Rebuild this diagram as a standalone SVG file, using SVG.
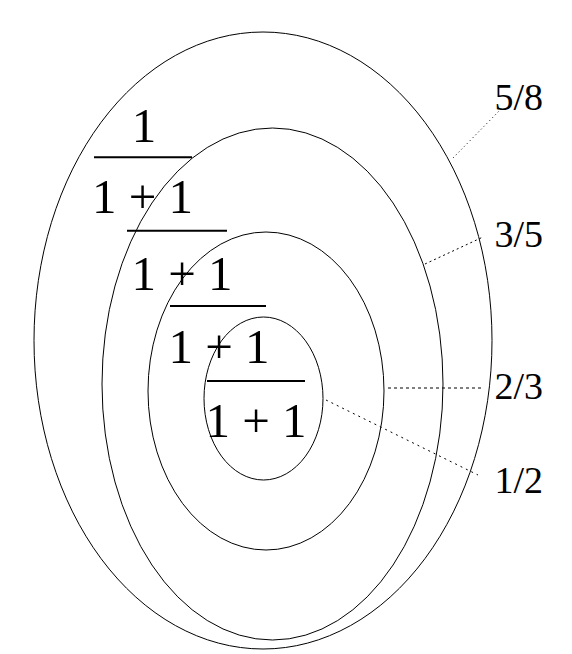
<svg xmlns="http://www.w3.org/2000/svg" width="572" height="654" viewBox="0 0 572 654">
<style>
.e{fill:none;stroke:#000;stroke-width:1}
.bar{stroke:#000;stroke-width:2}
.f{font-family:"Liberation Serif","Times New Roman",serif;font-size:49px;fill:#000;text-anchor:middle}
.l{font-family:"Liberation Serif","Times New Roman",serif;font-size:38px;fill:#000;text-anchor:end}
.c{stroke:#000;stroke-width:1;fill:none}
</style>
<rect width="572" height="654" fill="#fff"/>
<g id="ellipse-5-8"><ellipse class="e" cx="263" cy="340.5" rx="229" ry="308.5"/></g>
<g id="ellipse-3-5"><ellipse class="e" cx="272.5" cy="384" rx="170.5" ry="256"/></g>
<g id="ellipse-2-3"><ellipse class="e" cx="266" cy="391" rx="118" ry="159"/></g>
<g id="ellipse-1-2"><ellipse class="e" cx="263.5" cy="398.5" rx="59.5" ry="81.5"/></g>
<g id="fraction">
<text class="f" x="144" y="142">1</text>
<line class="bar" x1="94" y1="157.3" x2="192" y2="157.3"/>
<text class="f" x="142.5" y="212.7" xml:space="preserve">1 + 1</text>
<line class="bar" x1="127" y1="230.7" x2="227" y2="230.7"/>
<text class="f" x="182" y="290" xml:space="preserve">1 + 1</text>
<line class="bar" x1="170" y1="306" x2="266" y2="306"/>
<text class="f" x="219" y="363.3" xml:space="preserve">1 + 1</text>
<line class="bar" x1="207" y1="381" x2="305" y2="381"/>
<text class="f" x="256" y="436.7" xml:space="preserve">1 + 1</text>
</g>
<g id="connectors">
<line class="c" x1="453" y1="158" x2="502" y2="108" stroke-dasharray="1 3"/>
<line class="c" x1="425" y1="264" x2="483" y2="237" stroke-dasharray="2 3"/>
<line class="c" x1="388" y1="388" x2="481" y2="388" stroke-dasharray="3 3"/>
<line class="c" x1="326" y1="400" x2="478" y2="475" stroke-dasharray="2 4"/>
</g>
<g id="label-5-8"><text class="l" x="543" y="110">5/8</text></g>
<g id="label-3-5"><text class="l" x="543" y="247">3/5</text></g>
<g id="label-2-3"><text class="l" x="543" y="399">2/3</text></g>
<g id="label-1-2"><text class="l" x="543" y="493">1/2</text></g>
</svg>
